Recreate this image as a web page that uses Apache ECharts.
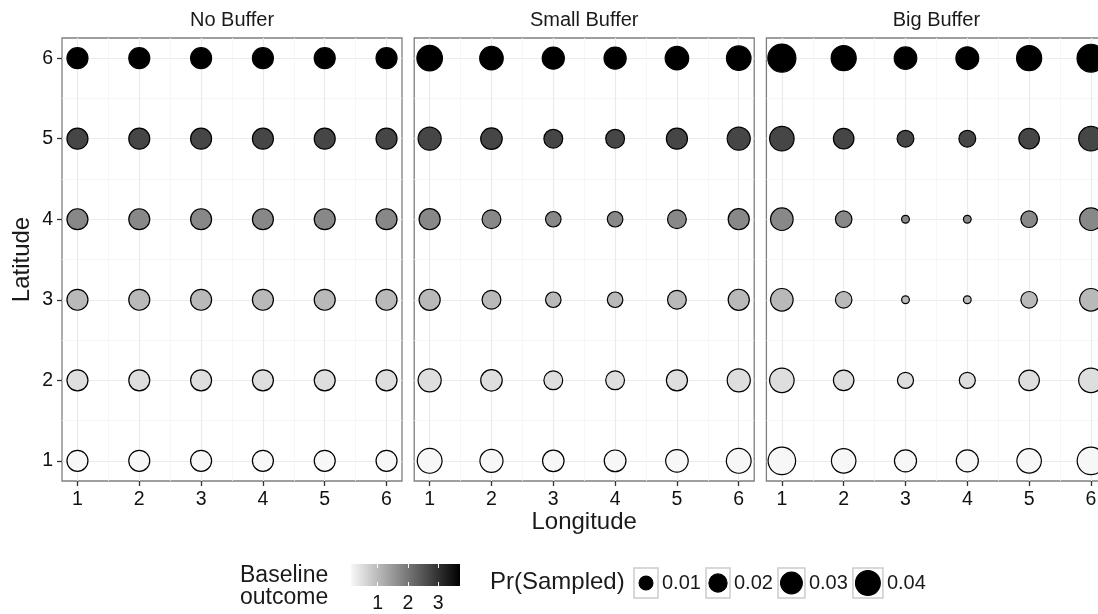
<!DOCTYPE html>
<html><head><meta charset="utf-8">
<script src="https://cdn.jsdelivr.net/npm/echarts@6/dist/echarts.min.js"></script>
<style>html,body{margin:0;padding:0;background:#fff;overflow:hidden}#c{width:1120px;height:614px}</style>
</head><body><div id="c"></div>
<script>
// ---------------- data ----------------
const facets = ['No Buffer', 'Small Buffer', 'Big Buffer'];
const longitudes = [1, 2, 3, 4, 5, 6];
const latitudes = [1, 2, 3, 4, 5, 6];
const minorBreaks = [1.5, 2.5, 3.5, 4.5, 5.5];
const baselineByLatitude = [0.12, 0.48, 1.02, 1.74, 2.70, 3.72];
const baselineRange = [0.12, 3.72];
const baselineTicks = [1, 2, 3];
const sizeLegendValues = [0.01, 0.02, 0.03, 0.04];
const sizeLegendLabels = ['0.01', '0.02', '0.03', '0.04'];
// Pr(Sampled): rows = latitude 1..6, columns = longitude 1..6
const prNoBuffer = [
  [0.0278, 0.0278, 0.0278, 0.0278, 0.0278, 0.0278],
  [0.0278, 0.0278, 0.0278, 0.0278, 0.0278, 0.0278],
  [0.0278, 0.0278, 0.0278, 0.0278, 0.0278, 0.0278],
  [0.0278, 0.0278, 0.0278, 0.0278, 0.0278, 0.0278],
  [0.0278, 0.0278, 0.0278, 0.0278, 0.0278, 0.0278],
  [0.0278, 0.0278, 0.0278, 0.0278, 0.0278, 0.0278]
];
const prSmallBuffer = [
  [0.0400, 0.0343, 0.0293, 0.0300, 0.0325, 0.0400],
  [0.0343, 0.0293, 0.0217, 0.0217, 0.0281, 0.0343],
  [0.0281, 0.0217, 0.0136, 0.0136, 0.0217, 0.0281],
  [0.0281, 0.0217, 0.0136, 0.0136, 0.0217, 0.0281],
  [0.0343, 0.0293, 0.0217, 0.0217, 0.0281, 0.0343],
  [0.0425, 0.0357, 0.0312, 0.0312, 0.0357, 0.0390]
];
const prBigBuffer = [
  [0.0500, 0.0390, 0.0312, 0.0312, 0.0390, 0.0500],
  [0.0390, 0.0264, 0.0149, 0.0149, 0.0264, 0.0390],
  [0.0325, 0.0159, 0.0003, 0.0003, 0.0159, 0.0325],
  [0.0325, 0.0159, 0.0004, 0.0003, 0.0159, 0.0325],
  [0.0390, 0.0264, 0.0166, 0.0166, 0.0264, 0.0390],
  [0.0522, 0.0411, 0.0325, 0.0334, 0.0411, 0.0510]
];
const facetValues = [prNoBuffer, prSmallBuffer, prBigBuffer];

// ---------------- styling / layout ----------------
const FONT = '"Liberation Sans", Arial, Helvetica, sans-serif';
const TXT = '#1a1a1a';
const LOW = '#f7f7f7', HIGH = '#000000';
const BORDER_W = 1.2;
const diam = p => Math.sqrt(75 + 15000 * p);   // outer diameter in px
const GRID_TOP = 38, GRID_H = 443, GRID_W = 340, GRID_LEFT0 = 62, GRID_STEP = 352.2;

const chart = echarts.init(document.getElementById('c'), null, {renderer: 'canvas'});

const grids = [], xAxes = [], yAxes = [], series = [], graphics = [];

facets.forEach((name, i) => {
  const left = GRID_LEFT0 + i * GRID_STEP;
  grids.push({left: left, top: GRID_TOP, width: GRID_W, height: GRID_H, show: true,
    borderColor: '#7f7f7f', borderWidth: 1.3, backgroundColor: 'rgba(0,0,0,0)', containLabel: false});
  // major x
  xAxes.push({type: 'value', gridIndex: i, min: 0.75, max: 6.25, position: 'bottom',
    axisLine: {show: false},
    axisTick: {show: true, customValues: longitudes, length: 5, lineStyle: {color: '#333', width: 1.3}},
    axisLabel: {show: true, customValues: longitudes, margin: 9, fontSize: 19.5, color: '#111', fontFamily: FONT},
    splitLine: {show: true, lineStyle: {color: '#ebebeb', width: 1.2}}});
  // minor x
  xAxes.push({type: 'value', gridIndex: i, min: 0.75, max: 6.25, position: 'bottom',
    axisLine: {show: false}, axisTick: {show: false, customValues: minorBreaks},
    axisLabel: {show: false, customValues: minorBreaks},
    splitLine: {show: true, lineStyle: {color: '#f4f4f4', width: 0.8}}});
  // major y
  yAxes.push({type: 'value', gridIndex: i, min: 0.75, max: 6.25, position: 'left',
    axisLine: {show: false},
    axisTick: {show: i === 0, customValues: latitudes, length: 5, lineStyle: {color: '#333', width: 1.3}},
    axisLabel: {show: i === 0, customValues: latitudes, margin: 9, fontSize: 19.5, color: '#111', fontFamily: FONT},
    splitLine: {show: true, lineStyle: {color: '#ebebeb', width: 1.2}}});
  // minor y
  yAxes.push({type: 'value', gridIndex: i, min: 0.75, max: 6.25, position: 'left',
    axisLine: {show: false}, axisTick: {show: false, customValues: minorBreaks},
    axisLabel: {show: false, customValues: minorBreaks},
    splitLine: {show: true, lineStyle: {color: '#f4f4f4', width: 0.8}}});

  const data = [];
  latitudes.forEach((lat, r) => {
    longitudes.forEach((lon, c) => {
      data.push([lon, lat, baselineByLatitude[r], facetValues[i][r][c]]);
    });
  });
  series.push({type: 'scatter', name: name, xAxisIndex: 2 * i, yAxisIndex: 2 * i,
    data: data, symbol: 'circle',
    symbolSize: v => Math.max(1, diam(v[3]) - BORDER_W),
    itemStyle: {borderColor: '#000', borderWidth: BORDER_W, opacity: 1},
    emphasis: {disabled: true}, silent: true, z: 5});

  graphics.push({type: 'text', x: left + GRID_W / 2, y: 20,
    style: {text: name, font: '20px ' + FONT, fill: TXT, align: 'center', verticalAlign: 'middle',
      textAlign: 'center', textVerticalAlign: 'middle'}});
});

// colour-bar legend (grid 3)
const CB = {left: 351, top: 564, width: 109, height: 22};
const cbGrad = new echarts.graphic.LinearGradient(0, 0, 1, 0, [{offset: 0, color: LOW}, {offset: 1, color: HIGH}]);
grids.push({left: CB.left, top: CB.top, width: CB.width, height: CB.height, show: true,
  borderWidth: 0, borderColor: 'rgba(0,0,0,0)', backgroundColor: cbGrad});
xAxes.push({type: 'value', gridIndex: 3, min: baselineRange[0], max: baselineRange[1], position: 'bottom',
  axisLine: {show: false},
  axisTick: {show: true, inside: true, customValues: baselineTicks, length: 4, lineStyle: {color: '#fff', width: 1}},
  axisLabel: {show: true, customValues: baselineTicks, margin: 8, fontSize: 19.5, color: '#111', fontFamily: FONT},
  splitLine: {show: false}});
xAxes.push({type: 'value', gridIndex: 3, min: baselineRange[0], max: baselineRange[1], position: 'top',
  axisLine: {show: false},
  axisTick: {show: true, inside: true, customValues: baselineTicks, length: 4, lineStyle: {color: '#fff', width: 1}},
  axisLabel: {show: false}, splitLine: {show: false}});
yAxes.push({type: 'value', gridIndex: 3, min: 0, max: 1, show: false});

// axis titles
graphics.push({type: 'text', x: GRID_LEFT0 + (2 * GRID_STEP + GRID_W) / 2, y: 522,
  style: {text: 'Longitude', font: '24px ' + FONT, fill: TXT, align: 'center', verticalAlign: 'middle',
    textAlign: 'center', textVerticalAlign: 'middle'}});
graphics.push({type: 'text', x: 22, y: GRID_TOP + GRID_H / 2, rotation: Math.PI / 2,
  style: {text: 'Latitude', font: '24px ' + FONT, fill: TXT, align: 'center', verticalAlign: 'middle',
    textAlign: 'center', textVerticalAlign: 'middle'}});

// legend titles
graphics.push({type: 'text', x: 240, y: 576,
  style: {text: 'Baseline', font: '23px ' + FONT, fill: TXT, align: 'left', verticalAlign: 'middle',
    textAlign: 'left', textVerticalAlign: 'middle'}});
graphics.push({type: 'text', x: 240, y: 598,
  style: {text: 'outcome', font: '23px ' + FONT, fill: TXT, align: 'left', verticalAlign: 'middle',
    textAlign: 'left', textVerticalAlign: 'middle'}});
graphics.push({type: 'text', x: 490, y: 582,
  style: {text: 'Pr(Sampled)', font: '24px ' + FONT, fill: TXT, align: 'left', verticalAlign: 'middle',
    textAlign: 'left', textVerticalAlign: 'middle'}});

// size legend keys
let kx = 634;
const KEY_CY = 583, KEY_H = 30;
sizeLegendValues.forEach((v, i) => {
  const d = diam(v);
  const w = Math.max(24, d + 4);
  graphics.push({type: 'rect', shape: {x: kx, y: KEY_CY - KEY_H / 2, width: w, height: KEY_H},
    style: {fill: '#fff', stroke: '#cccccc', lineWidth: 1.5}});
  graphics.push({type: 'circle', shape: {cx: kx + w / 2, cy: KEY_CY, r: (d - BORDER_W) / 2},
    style: {fill: '#000', stroke: '#000', lineWidth: BORDER_W}});
  const lx = kx + w + 4;
  graphics.push({type: 'text', x: lx, y: KEY_CY,
    style: {text: sizeLegendLabels[i], font: '20px ' + FONT, fill: TXT, align: 'left', verticalAlign: 'middle',
      textAlign: 'left', textVerticalAlign: 'middle'}});
  kx = lx + 39 + 5;
});

chart.setOption({
  animation: false,
  backgroundColor: '#fff',
  grid: grids,
  xAxis: xAxes,
  yAxis: yAxes,
  visualMap: [{type: 'continuous', show: false, dimension: 2, seriesIndex: [0, 1, 2],
    min: baselineRange[0], max: baselineRange[1], inRange: {color: [LOW, HIGH]}}],
  series: series,
  graphic: graphics
});
</script>
</body></html>
